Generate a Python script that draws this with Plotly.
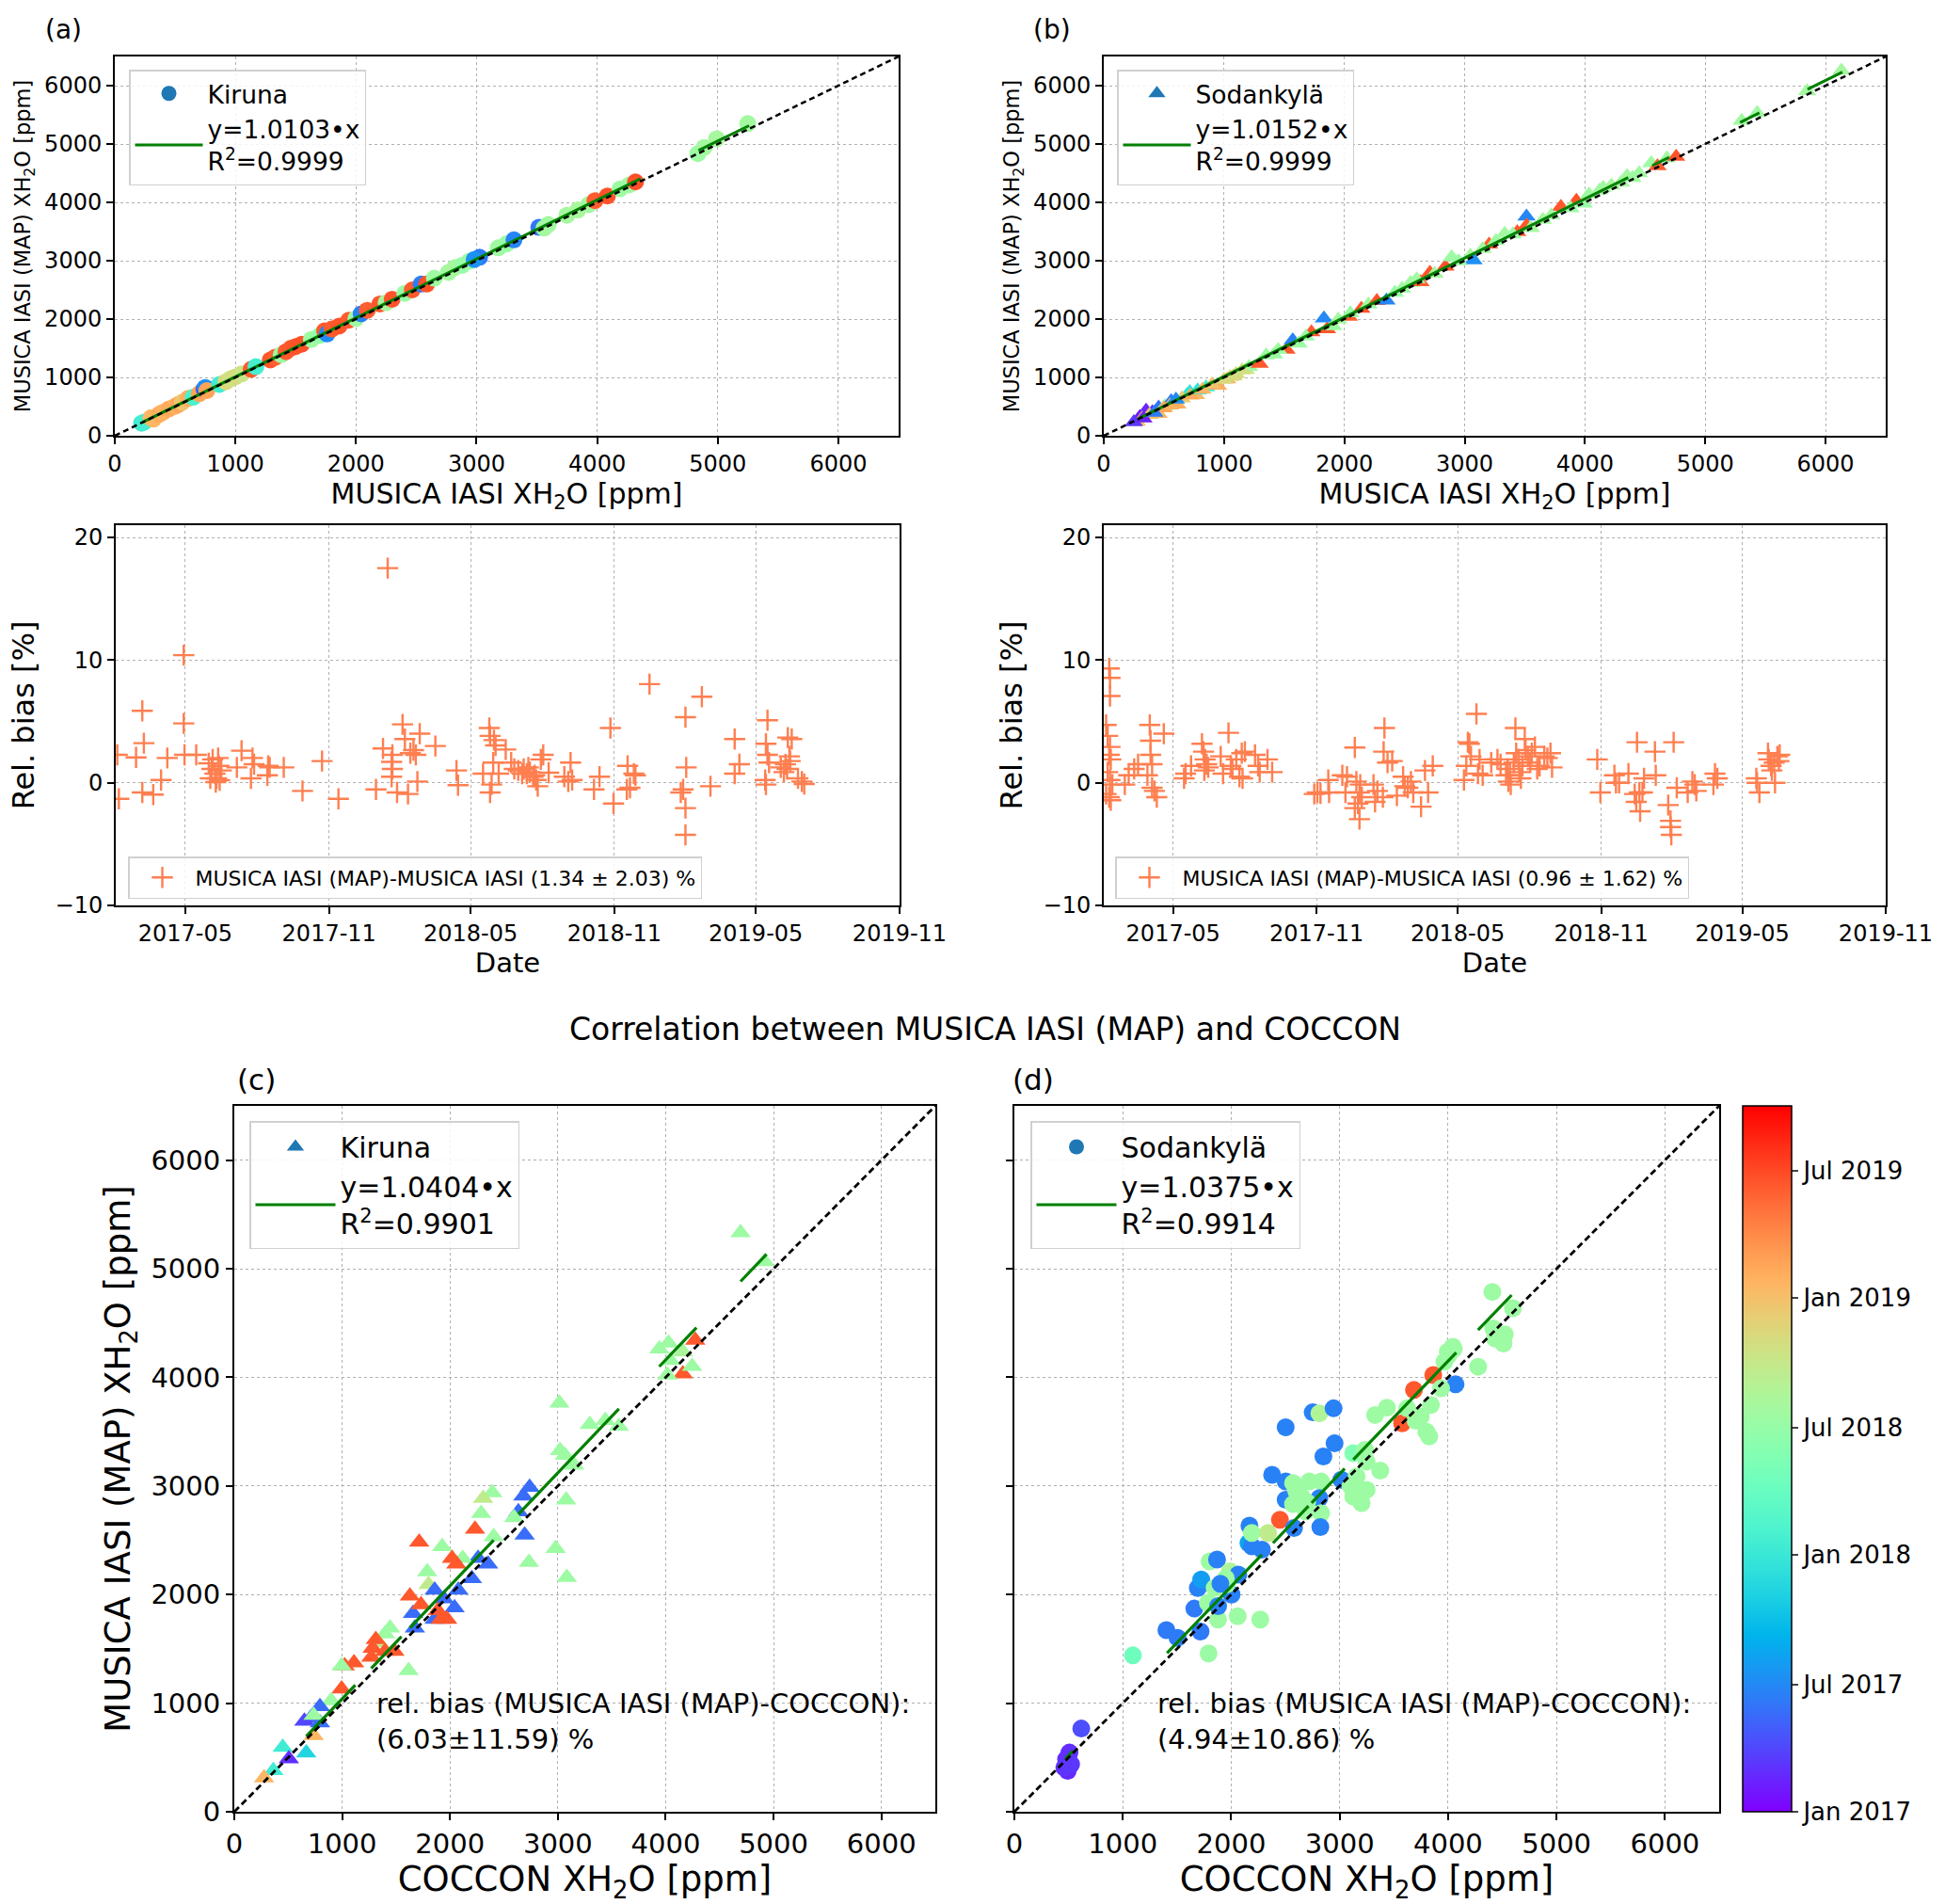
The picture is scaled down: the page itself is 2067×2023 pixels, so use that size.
import numpy as np
import pandas as pd
import plotly.graph_objects as go

FONT = "DejaVu Sans"
W, H = 2067, 2023
AXIS_MAX = 6500
CB_START, CB_END = "2017-01-01", "2019-10-01"
CB_TICKS = ["2017-01-01", "2017-07-01", "2018-01-01", "2018-07-01", "2019-01-01", "2019-07-01"]
CB_TICKTEXT = ["Jan 2017", "Jul 2017", "Jan 2018", "Jul 2018", "Jan 2019", "Jul 2019"]
DATE_TICKS = ["2017-05-01", "2017-11-01", "2018-05-01", "2018-11-01", "2019-05-01", "2019-11-01"]
DATE_TICKTEXT = ["2017-05", "2017-11", "2018-05", "2018-11", "2019-05", "2019-11"]
DATE_RANGE = ["2017-02-01", "2019-11-01"]

# ---------------- (a) Kiruna: MUSICA IASI vs MUSICA IASI (MAP) ----------------
KIR_A_X = [222, 241, 300, 320, 370, 400, 450, 500, 530, 560, 608, 650, 700, 740, 751, 764, 868, 921, 960, 1000,
           1052, 1131, 1170, 1290, 1330, 1380, 1420, 1460, 1500, 1550, 1630, 1700, 1740, 1760, 1800, 1860, 1940,
           2000, 2043, 2094, 2198, 2250, 2300, 2405, 2467, 2540, 2586, 2650, 2767, 2818, 2880, 2940, 3025, 2980,
           3180, 3250, 3310, 3516, 3594, 3560, 3749, 3840, 3930, 3982, 4085, 4189, 4266, 4318, 4835, 4887, 4990, 5249]
KIR_A_Y = [215, 232, 310, 285, 370, 405, 460, 505, 540, 575, 640, 660, 720, 800, 828, 774, 880, 925, 975, 1010,
           1060, 1140, 1185, 1300, 1345, 1390, 1440, 1500, 1530, 1570, 1650, 1720, 1800, 1745, 1830, 1880, 1980,
           2010, 2090, 2150, 2260, 2280, 2340, 2440, 2500, 2600, 2600, 2700, 2800, 2880, 2920, 2990, 3060, 3020,
           3220, 3290, 3357, 3572, 3620, 3560, 3780, 3870, 3960, 4029, 4110, 4230, 4300, 4351, 4835, 4940, 5090, 5350]
KIR_A_DATE = ["2018-01-10", "2018-01-20", "2019-01-15", "2019-01-20", "2019-02-05", "2019-01-25", "2019-02-10",
              "2019-01-30", "2019-02-15", "2018-12-20", "2019-02-01", "2018-02-01", "2019-02-18", "2017-04-20",
              "2017-07-10", "2019-02-21", "2018-01-15", "2018-11-15", "2018-10-20", "2018-11-01", "2018-10-10",
              "2019-06-10", "2018-01-25", "2019-06-15", "2019-06-02", "2018-07-10", "2019-06-08", "2019-06-12",
              "2019-06-16", "2019-06-20", "2018-07-15", "2018-06-25", "2019-06-11", "2017-07-05", "2019-06-05",
              "2019-06-14", "2019-06-09", "2018-07-20", "2017-06-20", "2019-06-03", "2019-06-11", "2018-08-01",
              "2019-06-16", "2018-07-05", "2019-06-07", "2017-06-15", "2019-06-20", "2018-07-20", "2018-07-25",
              "2018-08-05", "2018-06-30", "2018-07-12", "2017-06-10", "2017-07-15", "2018-07-18", "2018-07-08",
              "2017-06-25", "2017-06-05", "2018-07-22", "2018-07-28", "2018-07-30", "2018-08-03", "2018-07-26",
              "2019-06-04", "2019-06-18", "2018-07-14", "2018-07-19", "2019-06-22", "2018-07-16", "2018-07-27",
              "2018-08-02", "2018-07-24"]
KIR_A_SLOPE, KIR_A_R2 = 1.0103, 0.9999
KIR_A_FIT_SEGMENTS = [[230, 4360], [4840, 5260]]

# ---------------- (b) Sodankylä: MUSICA IASI vs MUSICA IASI (MAP) ----------------
SOD_B_X = [275, 300, 352, 404, 456, 456, 508, 560, 612, 690, 715, 767, 850, 949, 1026, 1078, 1100, 1182, 1208,
           320, 380, 500, 650, 900, 1000, 1296, 1415, 1519, 1571, 1620, 1726, 1856, 1830, 1908, 2037, 2141, 2200,
           2270, 2350, 2420, 2550, 2633, 2711, 2840, 2892, 3048, 3074, 3203, 3333, 3437, 3514, 3514, 3650, 3800,
           3929, 3990, 4033, 4120, 4220, 4300, 4396, 4551, 4603, 4681, 4758, 5303, 5432, 5847, 6132,
           550, 600, 720, 780, 820, 1050, 1150, 1350, 1450, 1680, 1950, 2050, 2480, 2600, 2750, 2950, 3150, 3260,
           3400, 3550, 3720, 3880, 4150, 4350, 4450, 250, 330, 420]
SOD_B_Y = [242, 322, 430, 403, 483, 376, 510, 591, 537, 698, 752, 698, 830, 860, 967, 1021, 1060, 1128, 1182,
           300, 360, 470, 640, 880, 960, 1235, 1397, 1477, 1638, 1580, 1773, 1826, 2014, 1880, 2041, 2176, 2250,
           2310, 2320, 2450, 2620, 2632, 2793, 2901, 3062, 3089, 3008, 3277, 3465, 3492, 3760, 3599, 3700, 3922,
           4029, 3980, 4137, 4200, 4290, 4340, 4420, 4674, 4620, 4754, 4781, 5399, 5533, 5909, 6258,
           520, 620, 690, 780, 790, 1010, 1120, 1380, 1470, 1700, 1990, 2100, 2520, 2680, 2780, 2990, 3200, 3340,
           3450, 3560, 3780, 3900, 4250, 4450, 4500, 235, 300, 395]
SOD_B_DATE = ["2019-01-10", "2017-02-10", "2017-02-20", "2017-03-05", "2017-06-01", "2019-01-20", "2018-07-01",
              "2017-06-15", "2019-02-01", "2018-01-05", "2017-12-20", "2019-01-15", "2018-01-10", "2019-02-05",
              "2019-01-20", "2018-11-20", "2018-11-01", "2018-10-15", "2018-07-20", "2019-01-25", "2019-01-05",
              "2019-02-12", "2018-12-10", "2018-12-25", "2018-11-10", "2019-06-10", "2018-07-10", "2019-06-15",
              "2017-06-20", "2018-07-15", "2019-06-08", "2019-06-12", "2017-07-01", "2018-07-20", "2019-06-05",
              "2019-06-14", "2018-07-18", "2019-06-18", "2017-06-25", "2018-07-05", "2018-07-22", "2019-06-03",
              "2019-06-16", "2019-06-20", "2018-07-12", "2018-08-01", "2017-07-10", "2019-06-07", "2018-07-25",
              "2019-06-11", "2017-06-28", "2019-06-13", "2018-07-28", "2019-06-09", "2019-06-19", "2018-07-08",
              "2018-07-16", "2018-07-24", "2018-08-04", "2018-07-30", "2018-07-20", "2018-07-14", "2019-06-06",
              "2018-07-27", "2019-06-17", "2018-07-19", "2018-07-23", "2018-07-26", "2018-07-29",
              "2019-01-28", "2017-07-05", "2019-02-08", "2017-12-15", "2019-01-18", "2018-11-05", "2018-10-25",
              "2018-07-15", "2018-07-20", "2018-07-10", "2018-07-25", "2018-07-05", "2018-07-18", "2018-07-22",
              "2018-08-01", "2018-07-12", "2018-07-28", "2018-07-16", "2018-07-09", "2018-07-24", "2018-07-30",
              "2018-07-14", "2018-07-21", "2018-07-26", "2018-07-19", "2017-03-10", "2017-02-15", "2017-06-10"]
SOD_B_SLOPE, SOD_B_R2 = 1.0152, 0.9999
SOD_B_FIT_SEGMENTS = [[280, 4360], [4560, 4700], [5290, 5450], [5850, 6140]]

# ---------------- Relative bias time series ----------------
KIR_BIAS_DATE = ["2017-02-05", "2017-02-03", "2017-02-27", "2017-03-07", "2017-03-09", "2017-03-07", "2017-03-21",
                 "2017-03-31", "2017-04-08", "2017-04-29", "2017-04-29", "2017-04-30", "2017-05-15", "2017-05-31",
                 "2017-06-04", "2017-06-08", "2017-06-10", "2017-06-12", "2017-06-13", "2017-06-02", "2017-06-09",
                 "2017-06-16", "2017-06-05", "2017-06-14", "2017-07-06", "2017-07-12", "2017-07-24", "2017-07-26",
                 "2017-07-28", "2017-08-15", "2017-08-14", "2017-08-17", "2017-09-04", "2017-09-28", "2017-10-23",
                 "2017-11-13", "2017-12-31", "2018-01-09", "2018-01-15", "2018-01-21", "2018-01-20", "2018-01-21",
                 "2018-01-20", "2018-01-27", "2018-02-03", "2018-02-06", "2018-02-10", "2018-02-13", "2018-02-17",
                 "2018-02-20", "2018-02-22", "2018-02-25", "2018-03-17", "2018-04-13", "2018-04-15", "2018-05-17",
                 "2018-05-25", "2018-05-26", "2018-05-31", "2018-06-02", "2018-05-26", "2018-05-28", "2018-05-30",
                 "2018-06-06", "2018-06-15", "2018-06-22", "2018-06-26", "2018-07-01", "2018-07-08", "2018-07-12",
                 "2018-07-16", "2018-07-20", "2018-07-24", "2018-07-14", "2018-07-06", "2018-07-26", "2018-07-22",
                 "2018-07-30", "2018-08-02", "2018-08-09", "2018-08-29", "2018-09-03", "2018-09-06", "2018-09-08",
                 "2018-10-06", "2018-10-13", "2018-10-27", "2018-10-31", "2018-11-18", "2018-11-17", "2018-11-21",
                 "2018-11-26", "2018-11-28", "2018-12-16", "2019-01-25", "2019-01-28", "2019-01-31", "2019-01-31",
                 "2019-01-31", "2019-02-01", "2019-02-21", "2019-03-04", "2019-04-04", "2019-04-04", "2019-04-10",
                 "2019-05-16", "2019-05-14", "2019-05-16", "2019-05-18", "2019-05-13", "2019-05-14", "2019-06-02",
                 "2019-06-06", "2019-06-08", "2019-06-11", "2019-06-16", "2019-06-13", "2019-06-14", "2019-06-10",
                 "2019-06-24", "2019-06-29", "2019-07-02"]
KIR_BIAS = [-1.31, 2.28, 2.07, 5.86, 3.23, -0.79, -0.97, 0.23, 2.02, 10.4, 4.84, 2.28, 2.28, 1.59,
            1.13, 0.74, 0.36, 2.02, 1.38, 0.36, 0.05, 1.0, 1.9, 0.2, 1.25, 2.61, 0.36, 2.02,
            1.51, 1.38, 0.61, 1.25, 1.25, -0.67, 1.77, -1.31, -0.54, 2.79, 17.5, 2.28, 1.7, 1.13,
            0.49, -0.79, 4.76, 3.56, -0.92, 2.41, 2.66, 2.28, 0.1, 4.0, 3.0, 1.0, -0.2, 0.74,
            4.46, 3.82, 3.48, 3.05, -0.79, -0.15, 1.64, 0.74, 2.71, 1.64, 1.13, 1.0, 1.13, 0.74,
            0.87, 0.49, 0.23, 1.25, 0.74, -0.28, 0.61, 1.9, 2.28, 0.82, 0.49, 0.1, 1.64, 0.23,
            -0.54, 0.49, 4.46, -1.69, 1.38, -0.54, -0.41, 0.74, 0.61, 8.04, -0.79, -0.54, 5.35, -2.07,
            -4.25, 1.25, 7.02, -0.28, 3.56, 0.74, 1.51, 5.1, 3.18, 2.28, 1.64, 0.23, -0.15, 1.25,
            0.87, 1.5, 3.69, 3.56, 2.15, 1.77, 1.13, 0.36, 0.1, -0.1]
KIR_BIAS_LABEL = "MUSICA IASI (MAP)-MUSICA IASI (1.34 \u00b1 2.03) %"

SOD_BIAS_DATE = ["2017-02-08", "2017-02-09", "2017-02-09", "2017-02-04", "2017-02-06", "2017-02-09", "2017-02-08",
                 "2017-02-10", "2017-02-06", "2017-02-09", "2017-02-08", "2017-02-10", "2017-02-04", "2017-02-12",
                 "2017-02-28", "2017-03-05", "2017-03-12", "2017-03-17", "2017-03-29", "2017-04-01", "2017-04-02",
                 "2017-04-02", "2017-04-04", "2017-04-04", "2017-04-07", "2017-04-10", "2017-04-19", "2017-05-15",
                 "2017-05-17", "2017-05-24", "2017-06-07", "2017-06-09", "2017-06-11", "2017-06-13", "2017-06-15",
                 "2017-06-10", "2017-07-01", "2017-07-04", "2017-07-11", "2017-07-14", "2017-07-16", "2017-07-21",
                 "2017-07-25", "2017-07-29", "2017-07-28", "2017-08-01", "2017-08-14", "2017-08-18", "2017-08-20",
                 "2017-08-30", "2017-09-05", "2017-10-29", "2017-11-02", "2017-11-06", "2017-11-16", "2017-11-17",
                 "2017-12-04", "2017-12-08", "2017-12-10", "2017-12-20", "2017-12-20", "2017-12-24", "2017-12-26",
                 "2017-12-27", "2017-12-26", "2017-12-29", "2017-12-22", "2018-01-13", "2018-01-15", "2018-01-18",
                 "2018-01-27", "2018-01-26", "2018-01-31", "2018-02-06", "2018-01-25", "2018-02-12", "2018-02-20",
                 "2018-02-22", "2018-02-26", "2018-03-02", "2018-03-05", "2018-03-15", "2018-03-20", "2018-03-24",
                 "2018-03-30", "2018-05-09", "2018-05-14", "2018-05-16", "2018-05-12", "2018-05-18", "2018-05-25",
                 "2018-05-27", "2018-06-02", "2018-05-29", "2018-06-13", "2018-06-21", "2018-06-25", "2018-07-02",
                 "2018-07-05", "2018-07-08", "2018-07-04", "2018-07-12", "2018-07-14", "2018-07-15", "2018-07-18",
                 "2018-07-19", "2018-07-23", "2018-07-26", "2018-07-27", "2018-07-30", "2018-08-02", "2018-08-04",
                 "2018-08-08", "2018-08-11", "2018-08-14", "2018-08-20", "2018-08-24", "2018-08-28", "2018-08-30",
                 "2018-07-07", "2018-07-21", "2018-10-27", "2018-10-31", "2018-11-18", "2018-11-20", "2018-11-24",
                 "2018-12-06", "2018-12-14", "2018-12-16", "2018-12-17", "2018-12-20", "2018-12-21", "2018-12-24",
                 "2018-12-26", "2019-01-09", "2019-01-10", "2019-01-26", "2019-01-29", "2019-01-29", "2019-01-30",
                 "2019-02-02", "2019-02-06", "2019-02-20", "2019-02-26", "2019-03-01", "2019-03-03", "2019-03-25",
                 "2019-03-27", "2019-03-30", "2019-05-19", "2019-05-20", "2019-05-23", "2019-06-03", "2019-06-04",
                 "2019-06-07", "2019-06-11", "2019-06-12", "2019-06-15", "2019-06-17", "2019-06-18", "2019-06-08"]
SOD_BIAS = [9.32, 8.55, 7.07, 4.71, 3.82, 2.92, 2.28, 1.9, 0.87, 0.23, -1.18, -1.43, -0.92, -0.15,
            -0.15, 0.61, 1.13, 1.51, 0.61, 4.71, 3.43, 2.28, 1.51, -0.41, -0.67, -1.18, 4.0, 0.36,
            0.74, 1.38, 3.18, 2.54, 1.9, 1.51, 1.25, 1.0, 2.15, 0.74, 4.07, 1.38, 1.13, 1.9,
            0.49, 0.36, 2.41, 2.54, 2.28, 1.38, 0.87, 1.9, 0.87, -0.92, -0.79, -0.87, 0.23, -0.79,
            0.61, -0.79, 0.49, 2.87, -2.07, -1.69, -2.97, -0.15, -0.79, -1.18, 0.1, -0.15, -1.56, -0.67,
            4.46, 2.54, 1.64, 1.77, -1.18, -1.05, 0.49, -0.28, -0.41, 0.1, -0.79, -1.95, 1.0, -0.79,
            1.38, 0.23, 3.3, 3.18, 1.38, 2.15, 5.61, 0.74, 0.61, 1.9, 1.64, 1.9, 1.51, 0.61,
            0.1, -0.15, 1.13, 1.64, 4.46, 2.41, 1.9, 0.87, 1.38, 3.56, 2.66, 2.15, 1.64, 2.41,
            2.92, 1.13, 1.38, 2.15, 2.02, 2.41, 1.25, 0.61, 0.36, 1.9, -0.79, 0.61, 0.0, 0.0,
            0.74, -0.92, -1.56, 3.3, -0.79, -2.33, -0.79, 0.36, 2.54, 0.61, -1.82, -3.1, -3.61, -4.25,
            3.3, -0.41, -0.79, 0.1, -0.15, -0.67, -0.15, 0.74, 0.36, 0.36, 0.0, -0.79, 2.41, 1.9,
            1.38, 1.64, 0.0, 2.15, 1.77, 2.28, 1.0]
SOD_BIAS_LABEL = "MUSICA IASI (MAP)-MUSICA IASI (0.96 \u00b1 1.62) %"

# ---------------- (c) Kiruna: COCCON vs MUSICA IASI (MAP) ----------------
KIR_C_X = [4694, 4918, 3940, 4026, 4274, 4159, 4015, 4245, 4159, 4044, 3014, 3296, 3440, 3566, 3020, 3066, 3152,
           3077, 2980, 2732, 3083, 2738, 2680, 2634, 2692, 2594, 2393, 2307, 2289, 2232, 2405, 2353, 2203, 2260,
           2117, 1927, 1714, 1789, 1801, 2019, 2059, 2077, 2042, 1944, 1858, 1628, 1657, 1674, 1731, 1858, 1916,
           1973, 1887, 1616, 1444, 1398, 1340, 1283, 1312, 1271, 1398, 1484, 1110, 1024, 995, 995, 897, 794, 708,
           650, 794, 736, 667, 449, 506, 362, 276, 736]
KIR_C_Y = [5333, 5065, 4262, 4315, 4342, 4032, 4021, 4101, 4235, 4155, 3764, 3566, 3603, 3550, 3325, 3282, 3191,
           2870, 2425, 2297, 2158, 2988, 2907, 2763, 2549, 2709, 2939, 2886, 2747, 2602, 2532, 2281, 2147, 2334,
           2334, 2441, 2484, 2211, 2093, 2334, 2281, 2040, 1879, 1960, 2040, 1986, 1826, 1692, 1906, 1772, 1772,
           1772, 1853, 1301, 1692, 1638, 1558, 1505, 1585, 1424, 1478, 1478, 1371, 1344, 1344, 1130, 1023, 969, 862,
           835, 819, 701, 541, 594, 487, 380, 311, 889]
KIR_C_DATE = ["2018-07-15", "2018-07-15", "2018-07-15", "2018-07-15", "2019-06-10", "2019-06-10", "2018-07-15",
              "2018-07-15", "2018-08-10", "2018-07-15", "2018-07-15", "2018-07-15", "2018-07-15", "2018-07-15",
              "2018-07-15", "2018-07-15", "2018-07-15", "2018-07-15", "2018-07-15", "2018-07-15", "2018-07-15",
              "2017-05-20", "2017-05-20", "2017-05-20", "2017-05-20", "2018-07-15", "2018-07-15", "2018-09-20",
              "2018-07-15", "2019-06-10", "2018-07-15", "2017-05-20", "2017-05-20", "2017-05-20", "2018-07-15",
              "2018-07-15", "2019-06-10", "2018-07-15", "2018-09-20", "2019-06-10", "2019-06-10", "2017-05-20",
              "2017-05-20", "2017-05-20", "2017-05-20", "2019-06-10", "2017-05-20", "2017-05-20", "2019-06-10",
              "2017-05-20", "2019-06-10", "2019-06-10", "2019-06-10", "2018-07-15", "2018-07-15", "2018-07-15",
              "2018-09-20", "2019-06-10", "2019-06-10", "2019-06-10", "2019-06-10", "2019-06-10", "2019-06-10",
              "2019-06-10", "2018-07-15", "2019-06-10", "2018-07-15", "2017-05-20", "2017-05-20", "2017-04-01",
              "2017-05-20", "2019-01-20", "2017-11-15", "2018-01-15", "2017-03-01", "2018-01-15", "2019-01-20",
              "2018-07-15"]
KIR_C_SLOPE, KIR_C_R2 = 1.0404, 0.9901
KIR_C_FIT_SEGMENTS = [[667, 1122], [1270, 1550], [1628, 2405], [2634, 3566], [3940, 4285], [4694, 4935]]
KIR_C_BIAS_TEXT = "rel. bias (MUSICA IASI (MAP)-COCCON):<br>(6.03\u00b111.59) %"

# ---------------- (d) Sodankylä: COCCON vs MUSICA IASI (MAP) ----------------
SOD_D_X = [617, 508, 477, 492, 461, 523, 1093, 1791, 1402, 1505, 1717, 1660, 1878, 2059, 2268, 1692, 1723, 1801,
           1869, 1785, 1847, 1988, 2065, 2003, 1879, 1956, 2159, 2190, 2168, 2190, 2283, 2340, 2449, 2377, 2502,
           2570, 2502, 2570, 2579, 2688, 2720, 2829, 2813, 2829, 2822, 2502, 2751, 2813, 2944, 2953, 2850, 3016,
           3125, 3234, 3249, 3374, 3125, 3202, 3249, 3156, 3327, 3436, 3576, 3685, 3863, 4069, 3826, 3748, 3841,
           3623, 3997, 4044, 3966, 3935, 4277, 4433, 4511, 4417, 4408, 4598, 4523, 4006, 4052, 2600, 2650, 3100,
           2700, 1950, 1900, 3800, 3700]
SOD_D_Y = [766, 545, 484, 377, 407, 438, 1440, 1458, 1672, 1602, 1660, 1871, 1770, 1801, 1770, 2061, 2138, 2306,
           2322, 1923, 2061, 2214, 2184, 2000, 1893, 2092, 2475, 2444, 2634, 2567, 2413, 2567, 2689, 3103, 3041,
           3026, 2873, 2833, 2613, 2766, 3041, 3041, 2888, 2750, 2622, 3541, 3678, 3669, 3715, 3393, 3271, 3057,
           3302, 3332, 3225, 3142, 2904, 2842, 2965, 3087, 3654, 3721, 3577, 3884, 4021, 3936, 3455, 3639, 3746,
           3715, 4236, 4282, 4144, 3899, 4098, 4358, 4312, 4450, 4787, 4637, 4396, 4208, 4262, 2950, 2900, 3000,
           2850, 2150, 2100, 3500, 3600]
SOD_D_DATE = ["2017-04-10", "2017-03-01", "2017-03-01", "2017-02-20", "2017-03-05", "2017-03-10", "2018-04-15",
              "2018-07-10", "2017-06-10", "2017-06-10", "2017-06-10", "2017-06-10", "2018-07-15", "2018-07-15",
              "2018-07-15", "2017-06-20", "2017-08-01", "2018-07-15", "2017-06-20", "2018-07-15", "2018-07-15",
              "2018-08-20", "2017-06-20", "2017-06-20", "2017-06-20", "2018-07-15", "2017-08-15", "2017-06-20",
              "2017-06-20", "2018-07-15", "2017-06-20", "2018-09-20", "2019-06-10", "2017-06-20", "2017-06-20",
              "2018-07-15", "2017-06-20", "2018-07-15", "2017-06-20", "2018-07-15", "2018-07-15", "2018-07-15",
              "2017-06-20", "2018-07-15", "2017-06-20", "2017-06-20", "2017-06-20", "2018-08-20", "2017-06-20",
              "2017-06-20", "2017-06-20", "2017-06-20", "2018-05-20", "2018-07-15", "2018-07-15", "2018-07-15",
              "2018-07-15", "2018-07-15", "2018-07-15", "2018-07-15", "2018-07-15", "2018-07-15", "2019-06-10",
              "2019-06-10", "2019-06-10", "2017-06-20", "2018-07-15", "2018-07-15", "2018-07-15", "2018-07-15",
              "2018-07-15", "2018-07-15", "2018-07-15", "2018-07-15", "2018-07-15", "2018-07-15", "2018-07-15",
              "2018-07-15", "2018-07-15", "2018-07-15", "2018-07-15", "2018-07-15", "2018-07-15", "2018-07-15",
              "2018-07-15", "2018-07-15", "2018-07-15", "2018-07-15", "2017-06-20", "2018-07-15", "2018-07-15"]
SOD_D_SLOPE, SOD_D_R2 = 1.0375, 0.9914
SOD_D_FIT_SEGMENTS = [[470, 540], [1408, 2282], [2385, 2713], [2741, 3046], [3126, 4075], [4276, 4586]]
SOD_D_BIAS_TEXT = "rel. bias (MUSICA IASI (MAP)-COCCON):<br>(4.94\u00b110.86) %"

SUPTITLE = "Correlation between MUSICA IASI (MAP) and COCCON"

# ---------------- helpers ----------------
def days(dates):
    return ((pd.to_datetime(dates) - pd.Timestamp(CB_START)) / pd.Timedelta(days=1)).to_numpy()


def rainbow_scale(n=21):
    out = []
    for v in np.linspace(0, 1, n):
        r = min(1.0, abs(2 * v - 0.5))
        g = np.sin(np.pi * v)
        b = np.cos(np.pi * v / 2)
        out.append([float(v), "rgb(%d,%d,%d)" % (round(r * 255), round(g * 255), round(abs(b) * 255))])
    return out


def fit_xy(segments, slope):
    xs, ys = [], []
    for a, b in segments:
        xs += [a, b, None]
        ys += [slope * a, slope * b, None]
    return xs, ys


def px_x(p):
    return p / W


def px_y(p):
    return 1 - p / H


fig = go.Figure()

GREEN = "#008000"


def corr_panel(ax, legend, xs, ys, dates, symbol, size, label, slope, r2, segments, line_w, dash_w, dash):
    xa, ya = ("x" + ax, "y" + ax)
    fig.add_trace(go.Scatter(x=[None], y=[None], mode="markers", xaxis=xa, yaxis=ya, legend=legend,
                             marker=dict(symbol=symbol, size=16, color="#1f77b4"), name=label))
    fig.add_trace(go.Scatter(x=xs, y=ys, mode="markers", xaxis=xa, yaxis=ya, showlegend=False,
                             marker=dict(symbol=symbol, size=size, color=days(dates), coloraxis="coloraxis",
                                         line=dict(width=0))))
    fx, fy = fit_xy(segments, slope)
    fig.add_trace(go.Scatter(x=fx, y=fy, mode="lines", xaxis=xa, yaxis=ya, legend=legend,
                             line=dict(color=GREEN, width=line_w),
                             name="y=%.4f\u2022x<br>R<sup>2</sup>=%.4f" % (slope, r2)))
    fig.add_trace(go.Scatter(x=[0, AXIS_MAX], y=[0, AXIS_MAX], mode="lines", xaxis=xa, yaxis=ya,
                             showlegend=False, line=dict(color="black", width=dash_w, dash=dash)))


corr_panel("", "legend", KIR_A_X, KIR_A_Y, KIR_A_DATE, "circle", 18, "Kiruna", KIR_A_SLOPE, KIR_A_R2,
           KIR_A_FIT_SEGMENTS, 3, 2.5, "6px,4px")
corr_panel("2", "legend2", SOD_B_X, SOD_B_Y, SOD_B_DATE, "triangle-up", 17, "Sodankyl\u00e4", SOD_B_SLOPE,
           SOD_B_R2, SOD_B_FIT_SEGMENTS, 3, 2.5, "6px,4px")


def bias_panel(ax, legend, dates, vals, label):
    fig.add_trace(go.Scatter(x=pd.to_datetime(dates), y=vals, mode="markers", xaxis="x" + ax, yaxis="y" + ax,
                             legend=legend, name=label,
                             marker=dict(symbol="cross-thin", size=16, color="coral",
                                         line=dict(color="coral", width=2.4))))


bias_panel("3", "legend3", KIR_BIAS_DATE, KIR_BIAS, KIR_BIAS_LABEL)
bias_panel("4", "legend4", SOD_BIAS_DATE, SOD_BIAS, SOD_BIAS_LABEL)

corr_panel("5", "legend5", KIR_C_X, KIR_C_Y, KIR_C_DATE, "triangle-up", 19, "Kiruna", KIR_C_SLOPE, KIR_C_R2,
           KIR_C_FIT_SEGMENTS, 3.2, 2.8, "7px,4px")
corr_panel("6", "legend6", SOD_D_X, SOD_D_Y, SOD_D_DATE, "circle", 19, "Sodankyl\u00e4", SOD_D_SLOPE, SOD_D_R2,
           SOD_D_FIT_SEGMENTS, 3.2, 2.8, "7px,4px")


def axis(dom, anchor, tick_size, title=None, title_size=None, standoff=8, **kw):
    d = dict(domain=dom, anchor=anchor, showline=True, linecolor="black", linewidth=2, mirror=True,
             ticks="outside", ticklen=7, tickwidth=1.6, tickcolor="black", automargin=False,
             showgrid=True, gridcolor="#b0b0b0", griddash="dot", gridwidth=1.4, zeroline=False,
             tickfont=dict(size=tick_size, color="black", family=FONT))
    if title:
        d["title"] = dict(text=title, font=dict(size=title_size, color="black", family=FONT), standoff=standoff)
    d.update(kw)
    return d


XH2O = "XH<sub>2</sub>O"
TOP_Y = [px_y(463), px_y(60)]
MID_Y = [px_y(962), px_y(558)]
BOT_Y = [px_y(1925), px_y(1175)]
LEFT_TOP = [px_x(122), px_x(955)]
RIGHT_TOP = [px_x(1173), px_x(2004)]
LEFT_BOT = [px_x(249), px_x(994)]
RIGHT_BOT = [px_x(1078), px_x(1827)]

rng = dict(range=[0, AXIS_MAX], tick0=0, dtick=1000)

layout = dict(
    width=W, height=H, autosize=False, margin=dict(l=0, r=0, t=0, b=0, pad=0, autoexpand=False),
    paper_bgcolor="white", plot_bgcolor="white",
    font=dict(family=FONT, color="black"),
    xaxis=axis(LEFT_TOP, "y", 24, "MUSICA IASI " + XH2O + " [ppm]", 30, 5, **rng),
    yaxis=axis(TOP_Y, "x", 24, "MUSICA IASI (MAP) " + XH2O + " [ppm]", 22.5, 8, **rng),
    xaxis2=axis(RIGHT_TOP, "y2", 24, "MUSICA IASI " + XH2O + " [ppm]", 30, 5, **rng),
    yaxis2=axis(TOP_Y, "x2", 24, "MUSICA IASI (MAP) " + XH2O + " [ppm]", 22.5, 8, **rng),
    xaxis3=axis([px_x(123), px_x(956)], "y3", 24, "Date", 29, 3, type="date", range=DATE_RANGE,
                tickvals=DATE_TICKS, ticktext=DATE_TICKTEXT),
    yaxis3=axis(MID_Y, "x3", 24, "Rel. bias [%]", 32, 12, range=[-10, 21], tickvals=[-10, 0, 10, 20]),
    xaxis4=axis(RIGHT_TOP, "y4", 24, "Date", 29, 3, type="date", range=DATE_RANGE,
                tickvals=DATE_TICKS, ticktext=DATE_TICKTEXT),
    yaxis4=axis(MID_Y, "x4", 24, "Rel. bias [%]", 32, 12, range=[-10, 21], tickvals=[-10, 0, 10, 20]),
    xaxis5=axis(LEFT_BOT, "y5", 29, "COCCON " + XH2O + " [ppm]", 37, 5, **rng),
    yaxis5=axis(BOT_Y, "x5", 29, "MUSICA IASI (MAP) " + XH2O + " [ppm]", 37, 10, **rng),
    xaxis6=axis(RIGHT_BOT, "y6", 29, "COCCON " + XH2O + " [ppm]", 37, 5, **rng),
    yaxis6=axis(BOT_Y, "x6", 29, None, None, showticklabels=False, **rng),
    coloraxis=dict(
        colorscale=rainbow_scale(), cmin=0, cmax=float(days([CB_END])[0]),
        colorbar=dict(x=px_x(1852), xanchor="left", y=px_y(1925), yanchor="bottom",
                      len=750 / H, lenmode="fraction", thickness=52, thicknessmode="pixels",
                      outlinewidth=1.5, outlinecolor="black", xpad=0, ypad=0,
                      tickvals=list(days(CB_TICKS)), ticktext=CB_TICKTEXT, ticks="outside",
                      ticklen=7, tickwidth=1.6, tickfont=dict(size=26, family=FONT, color="black")),
    ),
)


def legend_box(xp, yp, size, itemwidth):
    return dict(x=px_x(xp), y=px_y(yp), xanchor="left", yanchor="top", xref="paper", yref="paper",
                bgcolor="rgba(255,255,255,0.85)", bordercolor="#d0d0d0", borderwidth=1.5,
                font=dict(size=size, family=FONT, color="black"), itemwidth=itemwidth, tracegroupgap=4)


layout["legend"] = legend_box(137, 74, 26.5, 72)
layout["legend2"] = legend_box(1187, 74, 26.5, 72)
layout["legend3"] = legend_box(136, 910, 22, 60)
layout["legend4"] = legend_box(1185, 910, 22, 60)
layout["legend5"] = legend_box(265, 1191, 30, 85)
layout["legend6"] = legend_box(1095, 1191, 30, 85)

ann = []
for txt, xp, yp, sz in [("(a)", 46, 32, 28), ("(b)", 1096, 32, 28), ("(c)", 250, 1147, 31), ("(d)", 1074, 1147, 31)]:
    ann.append(dict(text=txt, x=px_x(xp), y=px_y(yp), xref="paper", yref="paper", xanchor="left",
                    yanchor="middle", showarrow=False, font=dict(size=sz, family=FONT, color="black")))
ann.append(dict(text=SUPTITLE, x=px_x(1047), y=px_y(1093), xref="paper", yref="paper", xanchor="center",
                yanchor="middle", showarrow=False, font=dict(size=33, family=FONT, color="black")))
ann.append(dict(text=KIR_C_BIAS_TEXT, x=1300, y=1160, xref="x5", yref="y5", xanchor="left", yanchor="top",
                align="left", showarrow=False, font=dict(size=29, family=FONT, color="black")))
ann.append(dict(text=SOD_D_BIAS_TEXT, x=1300, y=1160, xref="x6", yref="y6", xanchor="left", yanchor="top",
                align="left", showarrow=False, font=dict(size=29, family=FONT, color="black")))
layout["annotations"] = ann

fig.update_layout(**layout)
fig.write_html("out.html", config={"displayModeBar": False},
               post_script="document.body.style.margin='0px';document.body.style.padding='0px';")
